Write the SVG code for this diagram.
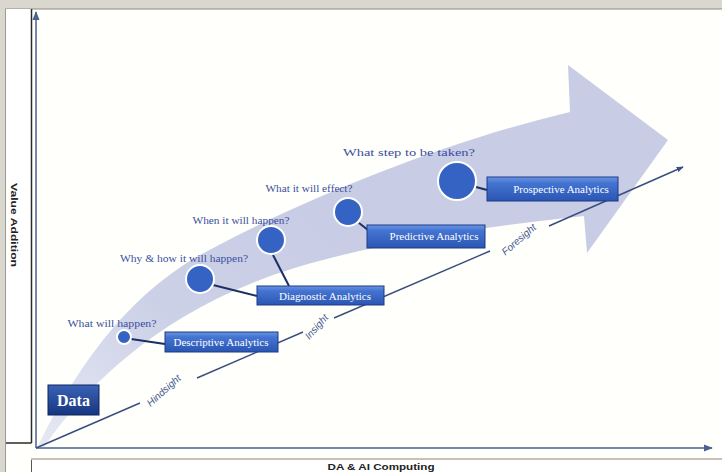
<svg xmlns="http://www.w3.org/2000/svg" width="722" height="472" viewBox="0 0 722 472">
  <defs>
    <linearGradient id="boxGrad" x1="0" y1="0" x2="0" y2="1">
      <stop offset="0" stop-color="#6b95e2"/>
      <stop offset="0.25" stop-color="#4474d2"/>
      <stop offset="1" stop-color="#2a56b2"/>
    </linearGradient>
    <linearGradient id="dataGrad" x1="0" y1="0" x2="0" y2="1">
      <stop offset="0" stop-color="#3a62b4"/>
      <stop offset="1" stop-color="#173680"/>
    </linearGradient>
    <linearGradient id="bandGrad" x1="40" y1="446" x2="300" y2="200" gradientUnits="userSpaceOnUse">
      <stop offset="0" stop-color="#e6e8f3"/>
      <stop offset="0.5" stop-color="#cdd1e7"/>
      <stop offset="1" stop-color="#c8cce5"/>
    </linearGradient>
    <marker id="axArrow" viewBox="0 0 10 10" refX="9" refY="5" markerWidth="6" markerHeight="6" orient="auto">
      <path d="M0,1 L10,5 L0,9 Z" fill="#4a6290"/>
    </marker>
    <marker id="diagArrow" viewBox="0 0 10 10" refX="9" refY="5" markerWidth="5" markerHeight="5" orient="auto">
      <path d="M0,1 L10,5 L0,9 Z" fill="#3a4d80"/>
    </marker>
    <style>
      .q { font-family: "Liberation Serif", "Times New Roman", serif; font-size: 11px; fill: #3b4f9e; text-anchor: middle; }
      .bt { font-family: "Liberation Serif", "Times New Roman", serif; font-size: 11px; fill: #ffffff; text-anchor: middle; }
      .box { fill: url(#boxGrad); stroke: #1c3a86; stroke-width: 1; }
      .dot { fill: #3563c4; stroke: #ffffff; stroke-width: 2; }
      .conn { stroke: #1b2e66; stroke-width: 2; fill: none; }
      .diag { stroke: #3a4d80; stroke-width: 1.4; fill: none; }
      .sl { font-family: "Liberation Sans", Arial, sans-serif; font-size: 10px; font-style: italic; fill: #45588e; text-anchor: middle; }
    </style>
  </defs>

  <!-- frame -->
  <rect x="0" y="0" width="722" height="472" fill="#d9d7ce"/>
  <rect x="5" y="9" width="717" height="463" fill="#fffffb"/>
  <line x1="5" y1="9" x2="722" y2="9" stroke="#8a8a86" stroke-width="1"/>
  <rect x="5" y="9" width="26" height="434" fill="#ffffff"/>
  <line x1="31.5" y1="9" x2="31.5" y2="443" stroke="#2a2a2a" stroke-width="1.5"/>
  <line x1="5" y1="443" x2="31.5" y2="443" stroke="#2a2a2a" stroke-width="1.5"/>
  <line x1="5.5" y1="9" x2="5.5" y2="472" stroke="#9a9a96" stroke-width="1"/>
  <text x="0" y="0" transform="translate(11,225) rotate(90)" font-family="Liberation Sans, Arial, sans-serif" font-size="8.5" font-weight="bold" fill="#222" text-anchor="middle" textLength="84" lengthAdjust="spacingAndGlyphs">Value Addition</text>

  <!-- bottom panel -->
  <rect x="31" y="458" width="691" height="2" fill="#c9c0b8"/>
  <rect x="31" y="460" width="691" height="12" fill="#ffffff"/>
  <line x1="31.5" y1="460" x2="31.5" y2="472" stroke="#555" stroke-width="1"/>
  <text x="381" y="470" font-family="Liberation Sans, Arial, sans-serif" font-size="9" font-weight="bold" fill="#222" text-anchor="middle" textLength="107" lengthAdjust="spacingAndGlyphs">DA &amp; AI Computing</text>

  <!-- big arrow -->
  <path id="bigArrow" d="M38,446 C70,380 120,300 200,255 C300,200 450,140 570,112 L568,65 L668,140 L587,253 L584,216 C470,228 330,250 250,284 C160,320 90,380 44,447 Z" fill="url(#bandGrad)"/>

  <!-- axes -->
  <g id="axes">
    <line x1="36" y1="448" x2="36" y2="12" stroke="#4a6290" stroke-width="1.5" marker-end="url(#axArrow)"/>
    <line x1="36" y1="448" x2="712" y2="448" stroke="#4a6290" stroke-width="1.5" marker-end="url(#axArrow)"/>
  </g>

  <!-- connectors -->
  <g id="connectors">
    <line class="diag" x1="36" y1="448" x2="140" y2="403"/>
    <line class="diag" x1="197" y1="378" x2="303" y2="332"/>
    <line class="diag" x1="334" y1="318" x2="490" y2="251"/>
    <line class="diag" x1="549" y1="226" x2="683" y2="167" marker-end="url(#diagArrow)"/>
    <line class="conn" x1="131" y1="339" x2="165" y2="344"/>
    <line class="conn" x1="213" y1="285" x2="257" y2="296"/>
    <line class="conn" x1="273" y1="255" x2="289" y2="286"/>
    <line class="conn" x1="359" y1="223" x2="368" y2="230"/>
    <line class="conn" x1="476" y1="187" x2="487" y2="190"/>
  </g>

  <!-- stage labels on the diagonal -->
  <text class="sl" transform="translate(166,393) rotate(-42)">Hindsight</text>
  <text class="sl" transform="translate(319,329) rotate(-48)">Insight</text>
  <text class="sl" transform="translate(521,242) rotate(-41)">Foresight</text>

  <!-- nodes -->
  <g id="data">
    <rect x="48" y="385" width="51" height="30" fill="url(#dataGrad)" stroke="#0f2560" stroke-width="1"/>
    <text x="73.5" y="406" font-family="Liberation Serif, Times New Roman, serif" font-size="16" font-weight="bold" fill="#ffffff" text-anchor="middle">Data</text>
  </g>

  <g id="descriptive">
    <text class="q" x="112" y="327" textLength="89" lengthAdjust="spacingAndGlyphs">What will happen?</text>
    <circle class="dot" cx="124" cy="337" r="7"/>
    <rect class="box" x="165" y="332" width="113" height="20"/>
    <text class="bt" x="221" y="346">Descriptive Analytics</text>
  </g>

  <g id="diagnostic">
    <text class="q" x="184" y="262" textLength="128" lengthAdjust="spacingAndGlyphs">Why &amp; how it will happen?</text>
    <circle class="dot" cx="200" cy="279" r="14"/>
    <rect class="box" x="257" y="286" width="127" height="19"/>
    <text class="bt" x="325" y="299.5">Diagnostic Analytics</text>
  </g>

  <g id="when">
    <text class="q" x="241" y="224" textLength="97" lengthAdjust="spacingAndGlyphs">When it will happen?</text>
    <circle class="dot" cx="271" cy="240" r="14"/>
  </g>

  <g id="predictive">
    <text class="q" x="309" y="192" textLength="87" lengthAdjust="spacingAndGlyphs">What it will effect?</text>
    <circle class="dot" cx="348" cy="212" r="14"/>
    <rect class="box" x="367" y="225" width="118" height="23"/>
    <text class="bt" x="434" y="240">Predictive Analytics</text>
  </g>

  <g id="prospective">
    <text class="q" x="409" y="156" font-size="12" textLength="132" lengthAdjust="spacingAndGlyphs">What step to be taken?</text>
    <circle class="dot" cx="457" cy="181" r="19"/>
    <rect class="box" x="487" y="177" width="131" height="24"/>
    <text class="bt" x="561" y="193">Prospective Analytics</text>
  </g>
</svg>
